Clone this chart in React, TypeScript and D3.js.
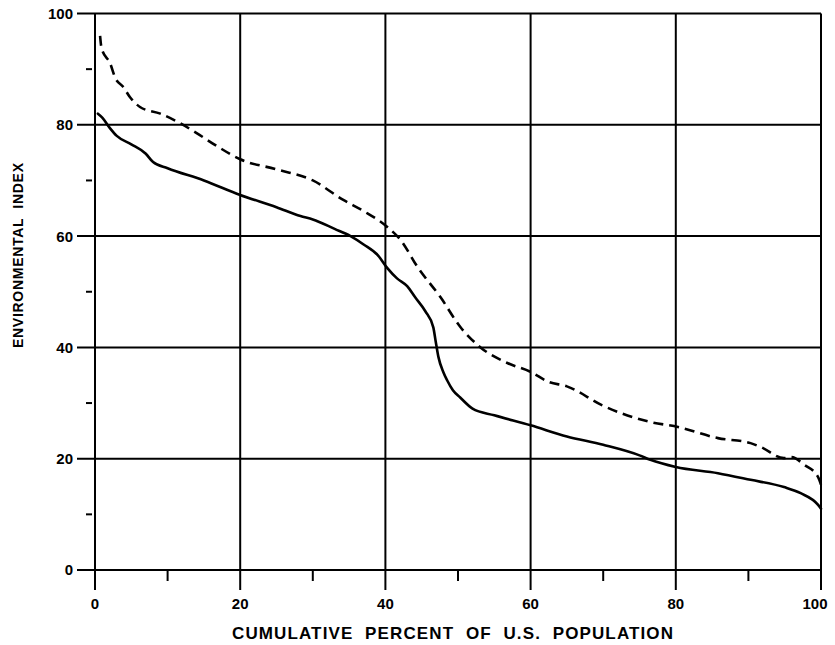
import React from "react";
import * as d3 from "d3";

// Environmental index vs. cumulative percent of U.S. population
const solidX = [0.4, 1, 2, 3, 5, 7, 8, 10, 15, 20, 25, 28.3, 30, 33, 35.2, 37, 39, 40.3, 41.6, 43, 44.1, 45.5, 46.6, 46.9, 47.3, 48, 48.5, 49.3, 50.3, 52, 55, 60, 65, 70, 75, 76.5, 80, 85.8, 90.3, 94.9, 97.2, 99.6, 100];
const solidY = [82, 81.3, 79.5, 78, 76.5, 74.8, 73.3, 72.2, 70, 67.4, 65.2, 63.6, 63, 61.3, 60, 58.5, 56.5, 54.2, 52.4, 51, 49, 46.5, 43.6, 41.3, 38.3, 35.5, 34.1, 32.3, 31, 29, 27.8, 26, 24, 22.5, 20.6, 19.8, 18.5, 17.4, 16.2, 14.9, 13.8, 11.7, 11];

const dashX = [0.7, 0.9, 2.1, 2.8, 3.9, 4.8, 6.2, 9, 11.7, 14, 17, 20, 25, 30, 34.2, 37, 40.3, 42.1, 44.4, 47.6, 50.3, 53.1, 56.8, 60, 62.5, 65, 70, 76.5, 80.3, 85.8, 90.3, 91.7, 94.9, 95.9, 97.7, 99.6, 100.1];
const dashY = [96, 93.8, 91, 88.4, 86.8, 85, 83.2, 82, 80.3, 78.5, 76, 73.8, 72, 70, 66.5, 64.5, 61.6, 59.3, 54.5, 49, 43.7, 40, 37.2, 35.6, 33.8, 33, 29.5, 26.6, 25.7, 23.7, 22.8, 22.1, 20.1, 20.3, 18.9, 16.7, 14.9];

const xMajor = [0, 20, 40, 60, 80, 100];
const xMinor = [10, 30, 50, 70, 90];
const yMajor = [0, 20, 40, 60, 80, 100];
const yMinor = [10, 30, 50, 70, 90];

const xTitle = "CUMULATIVE  PERCENT  OF  U.S.  POPULATION";
const yTitle = "ENVIRONMENTAL  INDEX";

export default function App() {
  const W = 835;
  const H = 645;
  const x = d3.scaleLinear().domain([0, 100]).range([95, 821]);
  const y = d3.scaleLinear().domain([0, 100]).range([570, 13.5]);

  const line = d3
    .line<[number, number]>()
    .x((d) => x(d[0]))
    .y((d) => y(d[1]))
    .curve(d3.curveMonotoneX);

  const solid = line(solidX.map((v, i) => [v, solidY[i]] as [number, number])) || "";
  const dashed = line(dashX.map((v, i) => [v, dashY[i]] as [number, number])) || "";

  const font = "'Liberation Sans', Arial, sans-serif";

  return (
    <svg
      width={W}
      height={H}
      style={{ position: "absolute", left: 0, top: 0, background: "#fff" }}
    >
      {/* horizontal grid lines, extending left to the labels */}
      {yMajor.map((v) => (
        <line key={"hy" + v} x1={77} x2={x(100)} y1={y(v)} y2={y(v)} stroke="#000" strokeWidth={2} />
      ))}
      {/* vertical grid lines, extending below the baseline */}
      {xMajor.map((v) => (
        <line key={"vx" + v} x1={x(v)} x2={x(v)} y1={y(100)} y2={y(0) + 20} stroke="#000" strokeWidth={2} />
      ))}
      {/* minor ticks */}
      {xMinor.map((v) => (
        <line key={"mx" + v} x1={x(v)} x2={x(v)} y1={y(0)} y2={y(0) + 11} stroke="#000" strokeWidth={2} />
      ))}
      {yMinor.map((v) => (
        <line key={"my" + v} x1={86} x2={92} y1={y(v)} y2={y(v)} stroke="#000" strokeWidth={2} />
      ))}

      {/* tick labels */}
      {yMajor.map((v) => (
        <text
          key={"ly" + v}
          x={73}
          y={y(v)}
          dy="0.36em"
          textAnchor="end"
          fontFamily={font}
          fontWeight="bold"
          fontSize={15}
        >
          {v}
        </text>
      ))}
      {xMajor.map((v) => (
        <text
          key={"lx" + v}
          x={v === 100 ? x(v) - 6 : x(v)}
          y={609}
          textAnchor="middle"
          fontFamily={font}
          fontWeight="bold"
          fontSize={15}
        >
          {v}
        </text>
      ))}

      {/* curves */}
      <path d={solid} fill="none" stroke="#000" strokeWidth={2.6} strokeLinejoin="round" strokeLinecap="round" />
      <path d={dashed} fill="none" stroke="#000" strokeWidth={2.6} strokeDasharray="10 6" />

      {/* axis titles */}
      <text
        x={232}
        y={639}
        textLength={441}
        lengthAdjust="spacing"
        fontFamily={font}
        fontWeight="bold"
        fontSize={17}
        style={{ whiteSpace: "pre" }}
      >
        {xTitle}
      </text>
      <text
        transform={`translate(23, 348) rotate(-90)`}
        textLength={185}
        lengthAdjust="spacing"
        fontFamily={font}
        fontWeight="bold"
        fontSize={14}
        style={{ whiteSpace: "pre" }}
      >
        {yTitle}
      </text>
    </svg>
  );
}
